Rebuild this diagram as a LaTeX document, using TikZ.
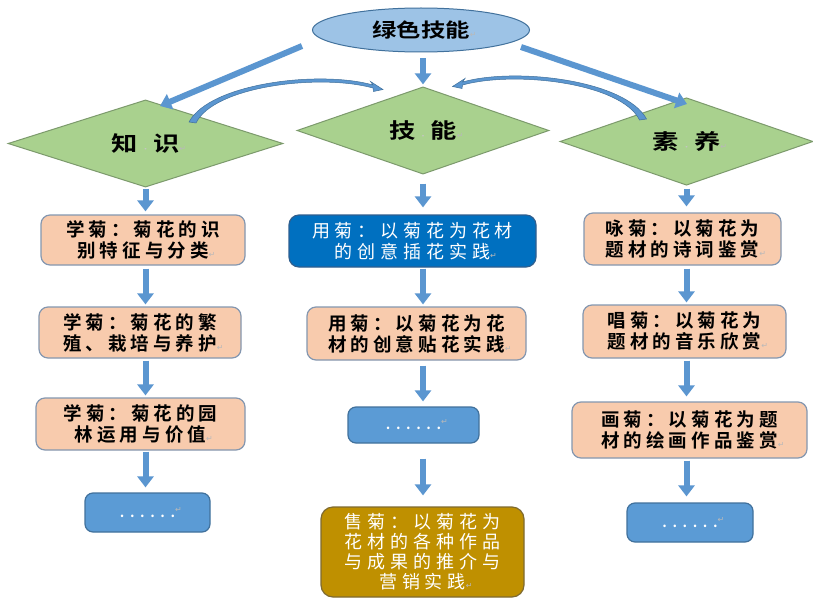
\documentclass[tikz,border=0pt]{standalone}
\usepackage{fontspec}
\setmainfont{Noto Sans CJK SC}[BoldFont={Noto Sans CJK SC Bold}]
\newfontfamily\bxfont{Noto Sans CJK SC Bold}[LetterSpace=22]
\newfontfamily\wtfont{Noto Sans CJK SC}[LetterSpace=27]
\newfontfamily\dtfont{Noto Sans CJK SC Bold}[LetterSpace=40]
\newfontfamily\hdfont{Noto Sans CJK SC Bold}[FakeStretch=1.25]
\newfontfamily\symfont{DejaVu Sans}
\usetikzlibrary{shapes.geometric,arrows.meta}
\definecolor{peach}{HTML}{F8CBAD}
\definecolor{peachln}{HTML}{8497B0}
\definecolor{greenfill}{HTML}{A9D18E}
\definecolor{greenln}{HTML}{7C9A6C}
\definecolor{ellfill}{HTML}{9DC3E6}
\definecolor{blueln}{HTML}{41719C}
\definecolor{bluebox}{HTML}{5B9BD5}
\definecolor{darkblue}{HTML}{0070C0}
\definecolor{darkblueln}{HTML}{2F5F8F}
\definecolor{gold}{HTML}{BF9000}
\definecolor{goldln}{HTML}{7F6A30}
\definecolor{arrowc}{HTML}{5B96D0}
\newcommand\pmark{\rlap{\symfont\color{gray!55}\fontsize{8}{8}\selectfont ↵}}
\newcommand\dsep{\makebox[15pt]{\color{gray!45}\fontsize{6}{6}\selectfont ·}}
\tikzset{
 pbox/.style={rectangle, rounded corners=9pt, fill=peach, draw=peachln, line width=1.2pt, align=center, inner sep=0pt, text=black, font=\bxfont\fontsize{18.5}{21}\selectfont},
 bbox/.style={rectangle, rounded corners=8pt, fill=bluebox, draw=blueln, line width=1.2pt, inner sep=0pt, text=white, font=\dtfont\fontsize{14}{14}\selectfont},
 dbox/.style={rectangle, rounded corners=10pt, fill=darkblue, draw=darkblueln, line width=1.2pt, align=center, inner sep=0pt, text=white, font=\wtfont\fontsize{18}{21}\selectfont},
 gbox/.style={rectangle, rounded corners=12pt, fill=gold, draw=goldln, line width=1.2pt, align=center, inner sep=0pt, text=white, font=\wtfont\fontsize{18}{20}\selectfont},
 dia/.style={diamond, fill=greenfill, draw=greenln, line width=1pt, inner sep=0pt, text=black, font=\hdfont\fontsize{21}{21}\selectfont},
 ell/.style={ellipse, fill=ellfill, draw=blueln, line width=1pt, inner sep=0pt, text=black, font=\hdfont\fontsize{19.5}{20}\selectfont},
 varrow/.style={draw=arrowc, line width=6pt, -{Triangle[width=16pt,length=11pt]}},
 curv/.style={fill=arrowc, draw=blueln, line width=0.5pt},
}
\begin{document}
\begin{tikzpicture}[x=1pt,y=-1pt]
\useasboundingbox (0,0) rectangle (813,599);
\fill[white] (0,0) rectangle (813,599);

% top ellipse
\node[ell, minimum width=217pt, minimum height=44pt] (top) at (421,30) {绿色技能\pmark};

% diamonds
\node[dia, minimum width=275pt, minimum height=57pt] (kn) at (145.5,143.5) {知\dsep 识\pmark};
\node[dia, minimum width=252pt, minimum height=55pt] (sk) at (423,130.5) {技\dsep 能\pmark};
\node[dia, minimum width=253pt, minimum height=57pt] (sy) at (686.5,141.5) {素\dsep 养\pmark};

% left column
\node[pbox, minimum width=204pt, minimum height=50pt] (b1) at (143,240) {学菊：菊花的识\\别特征与分类\pmark};
\node[pbox, minimum width=202pt, minimum height=51pt] (b2) at (140,332.5) {学菊：菊花的繁\\殖、栽培与养护\pmark};
\node[pbox, minimum width=209pt, minimum height=52pt] (b3) at (140.5,424) {学菊：菊花的园\\林运用与价值\pmark};
\node[bbox, minimum width=125pt, minimum height=39pt] (b4) at (147.5,512.5) {......\raisebox{5pt}{\pmark}};

% middle column
\node[dbox, minimum width=247pt, minimum height=52pt] (m1) at (412.5,241) {用菊：以菊花为花材\\的创意插花实践\pmark};
\node[pbox, minimum width=219pt, minimum height=53pt] (m2) at (416.5,333.5) {用菊：以菊花为花\\材的创意贴花实践\pmark};
\node[bbox, minimum width=131pt, minimum height=36pt] (m3) at (413.5,425) {......\raisebox{5pt}{\pmark}};
\node[gbox, minimum width=203pt, minimum height=90pt] (m4) at (422.5,552) {售菊：以菊花为\\花材的各种作品\\与成果的推介与\\营销实践\pmark};

% right column
\node[pbox, minimum width=197pt, minimum height=52pt] (r1) at (682.5,239) {咏菊：以菊花为\\题材的诗词鉴赏\pmark};
\node[pbox, minimum width=203pt, minimum height=53pt] (r2) at (684.5,331.5) {唱菊：以菊花为\\题材的音乐欣赏\pmark};
\node[pbox, minimum width=235pt, minimum height=56pt] (r3) at (689.5,430) {画菊：以菊花为题\\材的绘画作品鉴赏\pmark};
\node[bbox, minimum width=126pt, minimum height=39pt] (r4) at (690,522.5) {......\raisebox{5pt}{\pmark}};

% arrows from the ellipse
\coordinate (a1s) at (302,46);
\coordinate (a1e) at (160,106);
\coordinate (a3s) at (521,47);
\coordinate (a3e) at (687,104);
\draw[varrow] (a1s) -- (a1e);
\draw[varrow] (a3s) -- (a3e);
\draw[varrow, shorten <=6pt, shorten >=2pt] (top.south -| sk.north) -- (sk.north);

% curved arrows
\fill[curv] (189,122) .. controls (210,83) and (320,70) .. (373,85) -- (370.5,81.5) -- (383,89.5) -- (373.5,91.5) -- (373,88) .. controls (320,73.5) and (214,86) .. (196,123) -- cycle;
\begin{scope}[xshift=835.5pt, xscale=-1, yshift=3pt]
\fill[curv] (189,122) .. controls (210,83) and (320,70) .. (373,85) -- (370.5,81.5) -- (383,89.5) -- (373.5,91.5) -- (373,88) .. controls (320,73.5) and (214,86) .. (196,123) -- cycle;
\end{scope}

% left column arrows
\draw[varrow, shorten <=1pt, shorten >=3pt] (kn.south) -- (kn.south |- b1.north);
\draw[varrow, shorten <=3pt, shorten >=2pt] (b1.south -| kn.south) -- (b2.north -| kn.south);
\draw[varrow, shorten <=2pt, shorten >=2pt] (b2.south -| kn.south) -- (b3.north -| kn.south);
\draw[varrow, shorten <=1pt, shorten >=5pt] (b3.south -| kn.south) -- (b4.north -| kn.south);

% middle column arrows
\draw[varrow, shorten <=9pt, shorten >=7pt] (sk.south) -- (sk.south |- m1.north);
\draw[varrow, shorten <=1pt, shorten >=2pt] (m1.south -| sk.south) -- (m2.north -| sk.south);
\draw[varrow, shorten <=5pt, shorten >=5pt] (m2.south -| sk.south) -- (m3.north -| sk.south);
\draw[varrow, shorten <=15pt, shorten >=11pt] (m3.south -| sk.south) -- (m4.north -| sk.south);

% right column arrows
\draw[varrow, shorten <=3pt, shorten >=6pt] (sy.south) -- (sy.south |- r1.north);
\draw[varrow, shorten <=3pt, shorten >=2pt] (r1.south -| sy.south) -- (r2.north -| sy.south);
\draw[varrow, shorten <=2pt, shorten >=5pt] (r2.south -| sy.south) -- (r3.north -| sy.south);
\draw[varrow, shorten <=2pt, shorten >=6pt] (r3.south -| sy.south) -- (r4.north -| sy.south);
\end{tikzpicture}
\end{document}
